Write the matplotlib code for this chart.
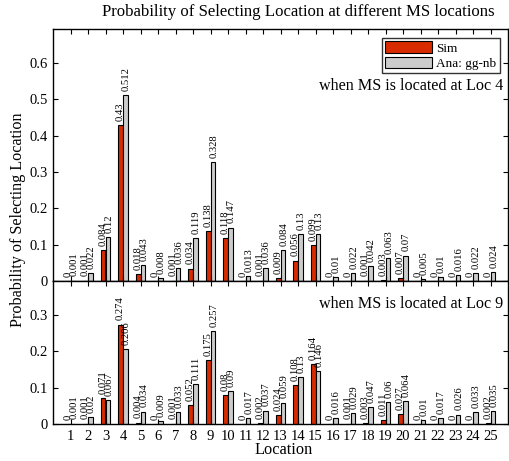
import matplotlib
matplotlib.use("Agg")
import matplotlib.pyplot as plt
import numpy as np

plt.rcParams['font.family'] = ['Liberation Serif', 'DejaVu Serif']

locations = list(range(1, 26))

sim_loc4 = [0, 0.001, 0.084, 0.43, 0.018, 0, 0.001, 0.034, 0.138, 0.118,
            0, 0.001, 0.009, 0.056, 0.099, 0, 0, 0.001, 0.003, 0.007,
            0, 0, 0, 0, 0]
ana_loc4 = [0.001, 0.022, 0.12, 0.512, 0.043, 0.008, 0.036, 0.119, 0.328, 0.147,
            0.013, 0.036, 0.084, 0.13, 0.13, 0.01, 0.022, 0.042, 0.063, 0.07,
            0.005, 0.01, 0.016, 0.022, 0.024]

sim_loc9 = [0, 0.001, 0.071, 0.274, 0.004, 0, 0.001, 0.052, 0.175, 0.08,
            0, 0.002, 0.024, 0.108, 0.164, 0, 0.001, 0.003, 0.011, 0.027,
            0, 0, 0, 0, 0.002]
ana_loc9 = [0.001, 0.02, 0.067, 0.206, 0.034, 0.009, 0.033, 0.111, 0.257, 0.09,
            0.017, 0.037, 0.059, 0.13, 0.146, 0.016, 0.029, 0.047, 0.06, 0.064,
            0.01, 0.017, 0.026, 0.033, 0.035]

series_names = ["Sim", "Ana: gg-nb"]
panel_texts = ["when MS is located at Loc 4", "when MS is located at Loc 9"]
title = "Probability of Selecting Location at different MS locations"
ylabel = "Probability of Selecting Location"
xlabel = "Location"

sim_color = '#D92B00'
ana_color = '#CCCCCC'

W, H = 509, 461
fig = plt.figure(figsize=(W / 100, H / 100), dpi=100)

left = 53 / W
right = 508 / W
ax_top = fig.add_axes([left, (H - 281) / H, right - left, 252 / H])
ax_bot = fig.add_axes([left, (H - 424) / H, right - left, 143 / H])

x = np.array(locations, dtype=float)
bw = 0.285


def draw(ax, sim, ana, ytop, yticks, text, ty):
    ax.bar(x - bw / 2, sim, bw, color=sim_color, edgecolor='black', linewidth=0.8,
           label=series_names[0])
    ax.bar(x + bw / 2, ana, bw, color=ana_color, edgecolor='black', linewidth=0.8,
           label=series_names[1])
    for xi, v in zip(x - bw / 2, sim):
        ax.annotate('{:g}'.format(v), (xi, v), xytext=(0, 3), textcoords='offset points',
                    rotation=90, ha='center', va='bottom', fontsize=7.7)
    for xi, v in zip(x + bw / 2, ana):
        ax.annotate('{:g}'.format(v), (xi, v), xytext=(0.5, 3), textcoords='offset points',
                    rotation=90, ha='center', va='bottom', fontsize=7.7)
    ax.set_xlim(0, 26)
    ax.set_ylim(0, ytop)
    ax.set_xticks(locations)
    ax.set_yticks(yticks)
    ax.set_yticklabels(['{:g}'.format(t) for t in yticks])
    ax.tick_params(direction='in', top=True, right=True, length=3.5, width=0.8,
                   labelsize=10.5, pad=4)
    for s in ax.spines.values():
        s.set_linewidth(1.0)
    ax.text(0.99, ty, text, transform=ax.transAxes,
            ha='right', va='center', fontsize=11.6)


draw(ax_top, sim_loc4, ana_loc4, 0.694, [0, 0.1, 0.2, 0.3, 0.4, 0.5, 0.6],
     panel_texts[0], 0.774)
draw(ax_bot, sim_loc9, ana_loc9, 0.394, [0, 0.1, 0.2, 0.3], panel_texts[1], 0.839)

ax_top.set_xticklabels([])
ax_bot.set_xticklabels([str(l) for l in locations])

leg = ax_top.legend(loc='upper right', bbox_to_anchor=(0.982, 0.965), fontsize=9.5,
                    frameon=True, fancybox=False, edgecolor='black', handlelength=3.6,
                    handleheight=1.0, borderpad=0.25, labelspacing=0.15,
                    handletextpad=0.3, borderaxespad=0.0)
leg.get_frame().set_linewidth(1.0)

fig.text(0.5 * (100 + 497) / W, 1 - 12 / H, title, ha='center', va='center', fontsize=12.1)
fig.text(18 / W, 1 - 220 / H, ylabel, ha='center', va='center', rotation=90, fontsize=11.6)
fig.text(284 / W, 1 - 450 / H, xlabel, ha='center', va='center', fontsize=11.8)

fig.savefig('out.png', dpi=100)
